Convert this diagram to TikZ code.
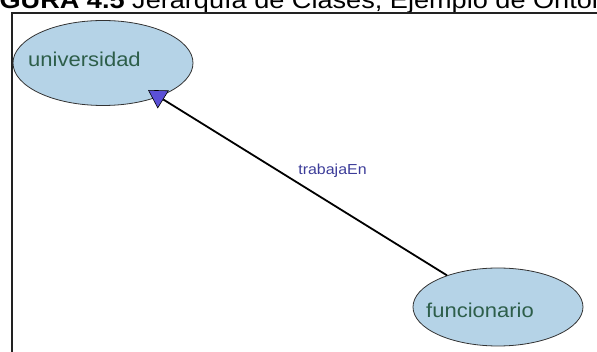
\documentclass[tikz,border=0pt]{standalone}
\usepackage{fontspec}
\setmainfont{Liberation Sans}
\usetikzlibrary{shapes.geometric, arrows.meta, positioning}
\definecolor{ClassBlue}{HTML}{B5D3E7}
\definecolor{ClassText}{HTML}{2D5E4A}
\definecolor{RelNavy}{HTML}{3C3C99}
\definecolor{TipViolet}{HTML}{5B50D6}
\definecolor{FrameGray}{HTML}{222222}
\newcommand{\widetext}[1]{\scalebox{1.1}[1]{#1}}
\tikzset{
  classnode/.style={ellipse, draw=black!80, line width=0.8pt, fill=ClassBlue, inner sep=0pt},
  classlabel/.style={text=ClassText, inner sep=0pt, anchor=base, font=\fontsize{20}{24}\selectfont},
  rellabel/.style={text=RelNavy, inner sep=0pt, anchor=base, font=\fontsize{14.5}{17}\selectfont}
}

\begin{document}
\begin{tikzpicture}[x=1pt, y=-1pt]
  \useasboundingbox (0,0) rectangle (597,352);
  \clip (0,0) rectangle (597,352);
  % caption and frame
  \node[anchor=base west, inner sep=0pt, font=\fontsize{24}{28}\selectfont] (caption) at (-24.7,9)
    {\scalebox{1.13}[1]{\textbf{FIGURA 4.5} Jerarquía de Clases, Ejemplo de Ontología}};
  \draw[FrameGray, line width=1.5pt] (12,352) -- (12,13) -- (597,13);
  % classes
  \node[classnode, minimum width=180pt, minimum height=85pt] (univ) at (103,63) {};
  \node[classlabel] (univtext) at (84.5,67) {\widetext{universidad}};
  \node[classnode, minimum width=170pt, minimum height=78pt] (func) at (498,307) {};
  \node[classlabel] (functext) at (480,318) {\widetext{funcionario}};
  % relation
  \coordinate (tip) at (148,90);
  \draw[line width=1.8pt, -{Triangle[length=18pt, width=21pt, fill=TipViolet, line width=0.6pt]}] (func) -- (tip);
  \node[rellabel] (rel) at (332.5,175) {\widetext{trabajaEn}};
\end{tikzpicture}
\end{document}
